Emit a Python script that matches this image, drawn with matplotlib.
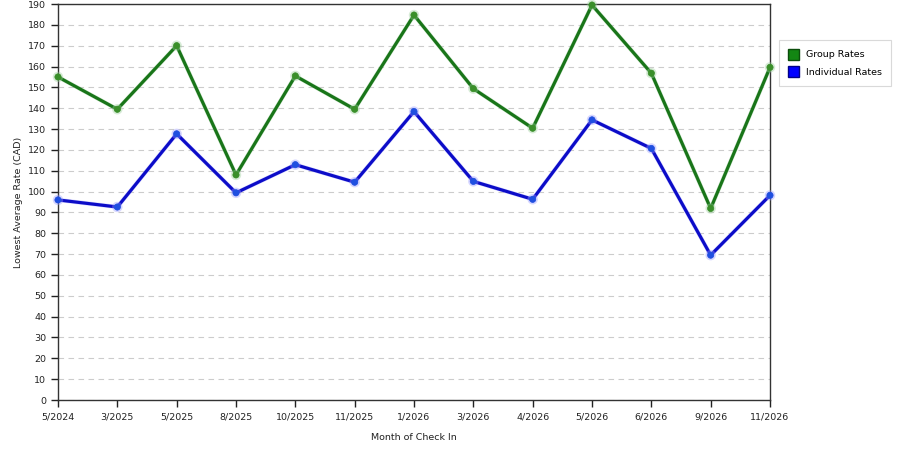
import matplotlib
matplotlib.use("Agg")
import matplotlib.pyplot as plt
from matplotlib.patches import Patch
import matplotlib.patheffects as pe

months = ["5/2024", "3/2025", "5/2025", "8/2025", "10/2025", "11/2025", "1/2026",
          "3/2026", "4/2026", "5/2026", "6/2026", "9/2026", "11/2026"]
group_rates = [155, 139.5, 170, 108, 155.5, 139.5, 184.7, 149.4, 130.4, 189.5, 156.8, 91.9, 159.6]
individual_rates = [96, 92.6, 127.7, 99.4, 112.9, 104.5, 138.4, 104.9, 96.3, 134.4, 120.7, 69.5, 98.2]
yticks = list(range(0, 191, 10))

fig = plt.figure(figsize=(9, 4.5), dpi=100)
ax = fig.add_axes([58/900, 1-400/450, (770-58)/900, 396/450])

x = list(range(len(months)))
green = "#197519"
blue = "#0c0cc8"
for vals, col, mk, glow in [(group_rates, green, "#3a8f2a", "#9ccf9c"),
                            (individual_rates, blue, "#1f4fe0", "#9a9aff")]:
    ax.plot(x, vals, color=col, linewidth=2.3, marker="o", markersize=4.5,
            markerfacecolor=mk, markeredgecolor=mk, markeredgewidth=0.5,
            path_effects=[pe.Stroke(linewidth=3.0, foreground=glow, alpha=0.4), pe.Normal()],
            zorder=3, clip_on=False)

ax.set_xlim(0, len(months)-1)
ax.set_ylim(0, 190)
ax.set_xticks(x)
ax.set_xticklabels(months)
ax.set_yticks(yticks)
ax.tick_params(axis="both", direction="out", length=5, width=1, labelsize=6.8, colors="#222222")
ax.tick_params(axis="x", pad=4)
ax.grid(axis="y", color="#cccccc", linestyle=(0, (5, 4)), linewidth=0.8)
ax.set_axisbelow(True)
for s in ax.spines.values():
    s.set_color("#333333")
    s.set_linewidth(1)

ax.set_xlabel("Month of Check In", fontsize=6.8, labelpad=8, color="#222222")
ax.set_ylabel("Lowest Average Rate (CAD)", fontsize=6.8, labelpad=4, color="#222222")

handles = [Patch(facecolor="#138613", edgecolor="#0b4d0b", label="Group Rates"),
           Patch(facecolor="#0000ff", edgecolor="#000088", label="Individual Rates")]
leg = fig.legend(handles=handles, loc="upper left", bbox_to_anchor=(779/900, 1-40/450),
                 borderaxespad=0,
                 fontsize=6.8, frameon=True, fancybox=False, edgecolor="#d0d0d0",
                 handlelength=1.2, handleheight=1.5, handletextpad=0.8, borderpad=0.9,
                 labelspacing=0.6)
leg.get_frame().set_linewidth(0.8)

fig.savefig("out.png", dpi=100)
